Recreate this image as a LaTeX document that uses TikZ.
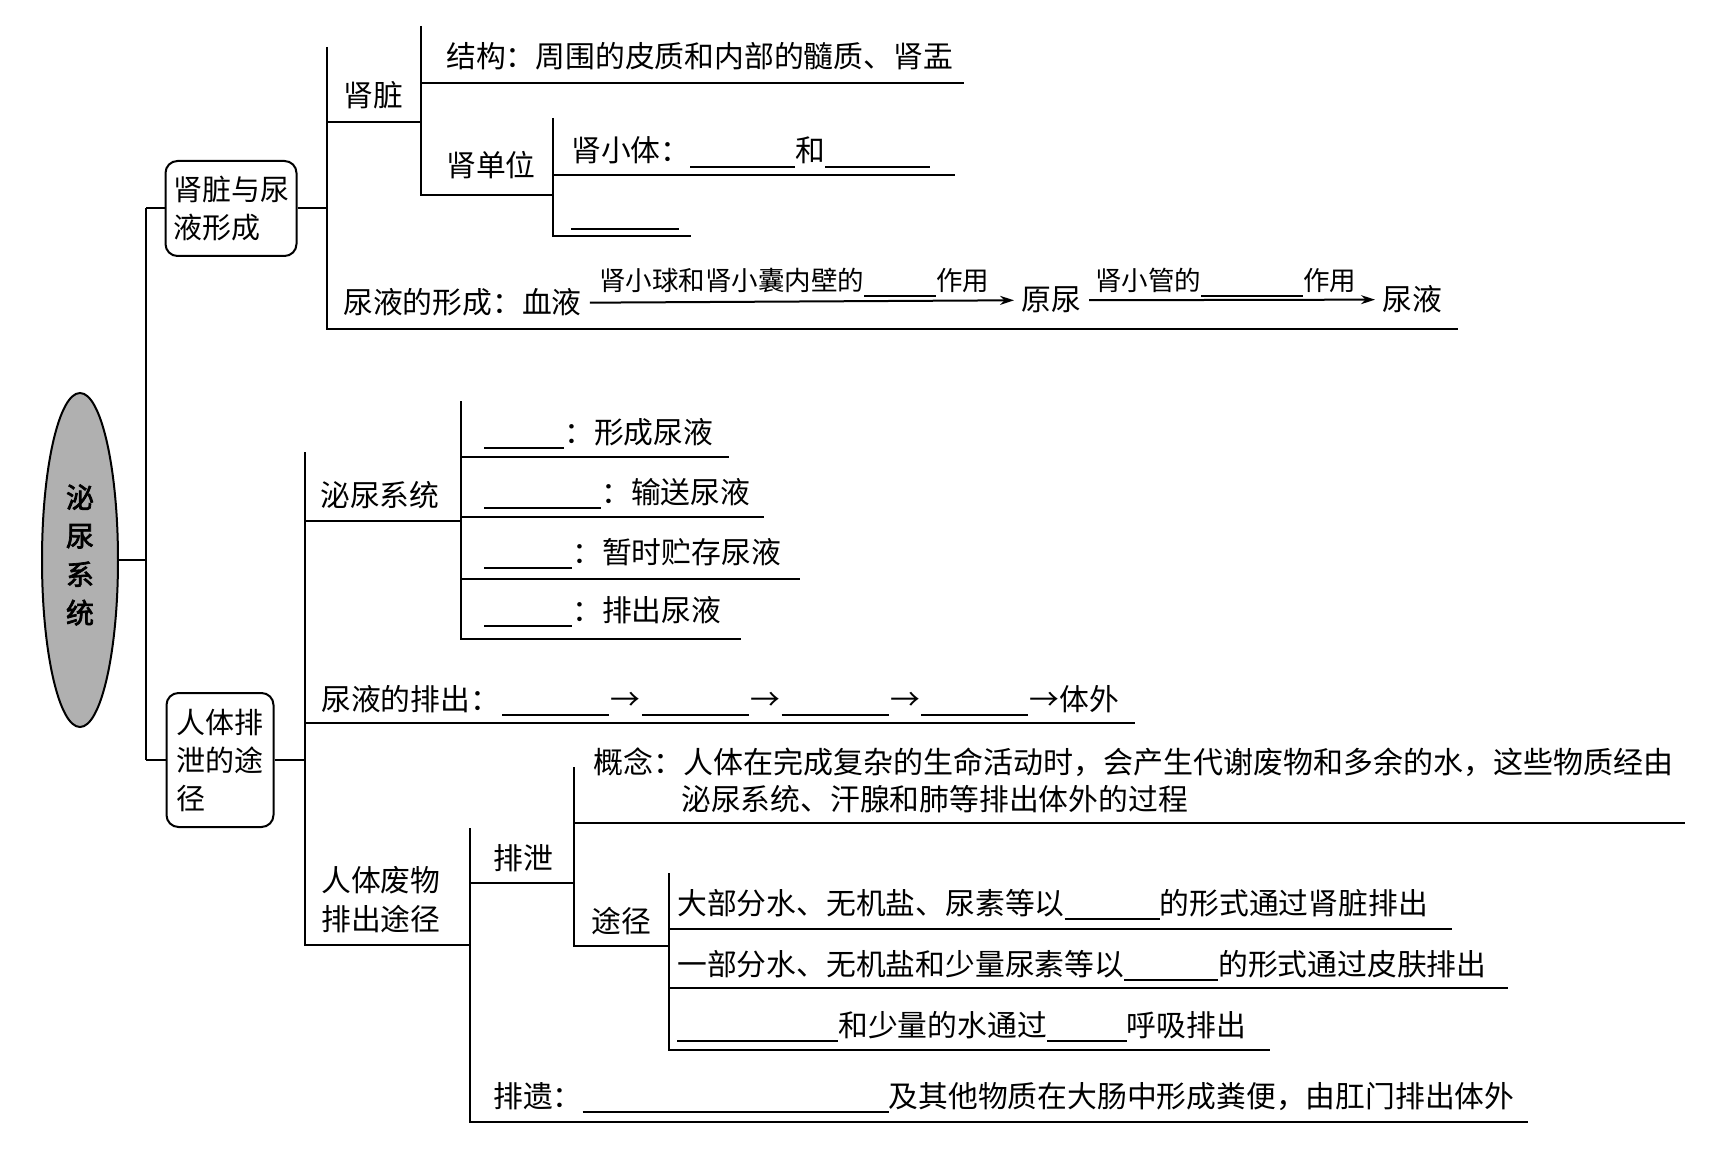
\documentclass[tikz,border=0pt]{standalone}
\usepackage{fontspec}
\newfontfamily\cjk{Noto Sans CJK SC}
\newfontfamily\cjkb{Noto Sans CJK SC}[FakeBold=2.5]
\usetikzlibrary{arrows.meta,shapes.geometric}
\newcommand\bl[1]{\rule[-6pt]{#1pt}{1.6pt}}
\begin{document}
\begin{tikzpicture}[x=1pt,y=-1pt,
 ln/.style={line width=2pt},
 tx/.style={anchor=base west, inner sep=0pt, font=\cjk\fontsize{29.8}{39}\selectfont},
 sm/.style={anchor=base west, inner sep=0pt, font=\cjk\fontsize{26.5}{32}\selectfont},
 rbox/.style={draw, line width=2pt, rounded corners=12pt, align=left, inner sep=0pt, font=\cjk\fontsize{29}{38}\selectfont},
 arr/.style={line width=2pt, -{Stealth[length=14pt,width=9pt]}, shorten <=8pt, shorten >=7pt},
 root/.style={draw, line width=2pt, ellipse, fill=gray!62, minimum width=76pt, minimum height=334pt, inner sep=0pt}
]
\fill[white] (0,0) rectangle (1725,1150);
\useasboundingbox (0,0) rectangle (1725,1150);

% root
\node[root] (root) at (80,560) {};
\node[align=center, inner sep=0pt, font=\cjkb\fontsize{28}{38.5}\selectfont] (roott) at (80,555) {泌\\尿\\系\\统};

% boxes
\node[rbox, minimum width=131pt, minimum height=95pt] (b1) at (231,208.5) {肾脏与尿\\液形成};
\node[rbox, minimum width=107pt, minimum height=134pt] (b2) at (220,760) {人体排\\泄的途\\径};

% trunk
\coordinate (t1) at (146,208.5);
\coordinate (t2) at (146,760);
\draw[ln] (root.east) -- (root.east -| t1);
\draw[ln] (t1) -- (t2);
\draw[ln] (t1) -- (b1.west);
\draw[ln] (t2) -- (b2.west);

% ---- upper branch
\coordinate (k0) at (327,208.5);
\draw[ln] (b1.east) -- (k0);
\draw[ln] (327,47) -- (327,329) -- (1458,329);
\draw[ln] (327,122) -- (421,122);
\draw[ln] (421,26) -- (421,195) -- (553,195);
\draw[ln] (421,83) -- (964,83);
\draw[ln] (553,118) -- (553,236) -- (691,236);
\draw[ln] (553,175) -- (955,175);

\node[tx] (shz) at (343,107) {肾脏};
\node[tx] (jg) at (446,68) {结构：周围的皮质和内部的髓质、肾盂};
\node[tx] (sdw) at (446,177) {肾单位};
\node[tx] (sxt) at (571,162) {肾小体：\bl{105}和\bl{105}};
\node[tx] (bk1) at (571,224) {\bl{108}};
\node[tx] (nyx) at (343,314) {尿液的形成：血液};
\node[tx] (yn) at (1021,311) {原尿};
\node[tx] (ny) at (1382,311) {尿液};
\draw[arr] (nyx.east) -- (yn.west);
\draw[arr] (yn.east) -- (ny.west);
\node[sm] (l1) at (599,291) {肾小球和肾小囊内壁的\bl{72}作用};
\node[sm] (l2) at (1095,291) {肾小管的\bl{102}作用};

% ---- lower branch
\coordinate (m0) at (305,760);
\draw[ln] (b2.east) -- (m0);
\draw[ln] (305,452) -- (305,945) -- (470,945);
\draw[ln] (305,521) -- (461,521);
\draw[ln] (461,401) -- (461,639) -- (741,639);
\draw[ln] (461,457) -- (729,457);
\draw[ln] (461,517) -- (764,517);
\draw[ln] (461,579) -- (800,579);
\draw[ln] (305,723) -- (1135,723);

\node[tx] (mnxt) at (320,506) {泌尿系统};
\node[tx] (i1) at (484,443) {\bl{80}：形成尿液};
\node[tx] (i2) at (484,503) {\bl{117}：输送尿液};
\node[tx] (i3) at (484,563) {\bl{88}：暂时贮存尿液};
\node[tx] (i4) at (484,621) {\bl{88}：排出尿液};
\node[tx] (pc) at (321,710) {尿液的排出：\hspace{2pt}\bl{107}\hspace{1.5pt}→\hspace{1.5pt}\bl{107}\hspace{1.5pt}→\hspace{1.5pt}\bl{107}\hspace{1.5pt}→\hspace{1.5pt}\bl{107}\hspace{1.5pt}→体外};

\node[tx, align=left] (fw) at (321,930) {人体废物\\排出途径};

\draw[ln] (470,828) -- (470,1122) -- (1528,1122);
\draw[ln] (470,883) -- (574,883);
\draw[ln] (574,767) -- (574,946) -- (669,946);
\draw[ln] (574,823) -- (1685,823);
\draw[ln] (669,873) -- (669,1050) -- (1270,1050);
\draw[ln] (669,929) -- (1452,929);
\draw[ln] (669,988) -- (1508,988);

\node[tx] (px) at (493,869) {排泄};
\node[tx, font=\cjk\fontsize{30}{37}\selectfont] (gn1) at (593,773) {概念：人体在完成复杂的生命活动时，会产生代谢废物和多余的水，这些物质经由};
\node[tx] (gn2) at (681,810) {泌尿系统、汗腺和肺等排出体外的过程};
\node[tx] (tj) at (591,932) {途径};
\node[tx] (j1) at (677,914) {大部分水、无机盐、尿素等以\bl{95}的形式通过肾脏排出};
\node[tx] (j2) at (677,975) {一部分水、无机盐和少量尿素等以\bl{94}的形式通过皮肤排出};
\node[tx] (j3) at (677,1036) {\bl{161}和少量的水通过\bl{80}呼吸排出};
\node[tx] (py) at (493,1107) {排遗：\bl{306}及其他物质在大肠中形成粪便，由肛门排出体外};
\end{tikzpicture}
\end{document}
